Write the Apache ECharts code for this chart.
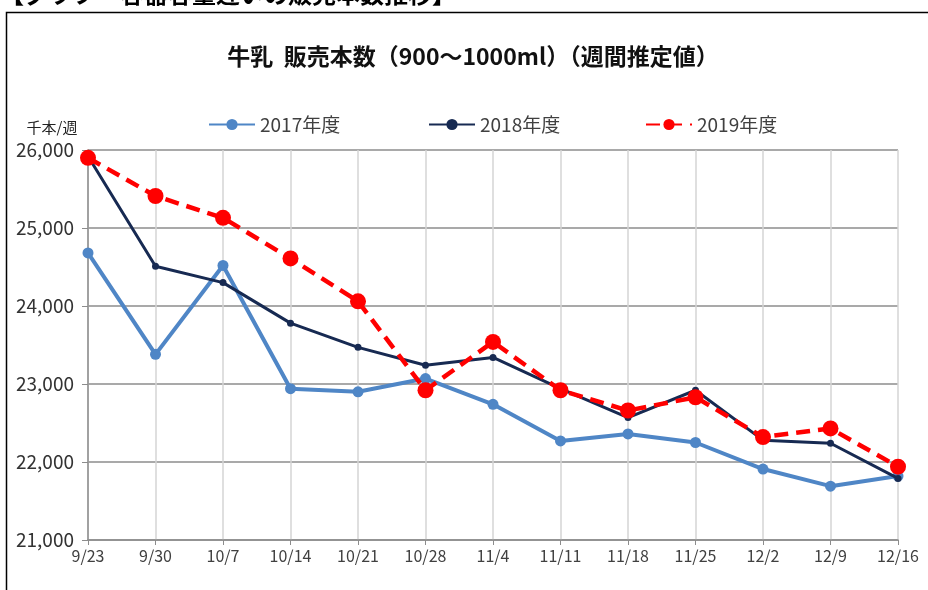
<!DOCTYPE html>
<html><head><meta charset="utf-8">
<script src="https://cdn.jsdelivr.net/npm/echarts@6/dist/echarts.min.js"></script>
<style>html,body{margin:0;padding:0;background:#fff}#c{width:928px;height:590px}</style>
</head><body><div id="c"></div>
<script>
const categories = ['9/23','9/30','10/7','10/14','10/21','10/28','11/4','11/11','11/18','11/25','12/2','12/9','12/16'];
const s2017 = [24680,23380,24520,22940,22900,23070,22740,22270,22360,22250,21910,21690,21820];
const s2018 = [25920,24510,24300,23780,23470,23240,23340,22940,22570,22920,22280,22240,21790];
const s2019 = [25900,25410,25130,24610,24060,22920,23540,22920,22660,22830,22320,22430,21940];
const seriesNames = ['2017年度','2018年度','2019年度'];
const FONT = '"Noto Sans CJK JP", sans-serif';
const chart = echarts.init(document.getElementById('c'), null, {renderer:'canvas'});
function legendFor(name, left){
  return {data:[name], left:left, top:110, itemWidth:46, itemHeight:14,
    textStyle:{fontFamily:FONT, fontSize:19, color:'#404040'}, itemGap:0};
}
chart.setOption({
  animation:false,
  backgroundColor:'#fff',
  graphic:[
    {type:'rect', shape:{x:6.5,y:12.5,width:940,height:600}, style:{fill:'none', stroke:'#000', lineWidth:1.5}, z:-1},
    {type:'text', left:0, top:-18, style:{text:'【グラフ　容器容量違いの販売本数推移】', font:'bold 24px "Noto Sans CJK JP"', fill:'#000'}}
  ],
  title:{text:'牛乳  販売本数（900～1000ml）（週間推定値）', left:468, textAlign:'center', top:40,
    textStyle:{fontFamily:FONT, fontSize:23, fontWeight:'bold', color:'#111'}},
  legend:[legendFor(seriesNames[0],203), legendFor(seriesNames[1],423), legendFor(seriesNames[2],640)],
  grid:{left:88, right:30, top:150, bottom:50, containLabel:false},
  xAxis:{type:'category', data:categories, boundaryGap:false,
    axisLine:{lineStyle:{color:'#8c8c8c', width:1.5}},
    axisTick:{show:true, alignWithLabel:true, length:5, lineStyle:{color:'#8c8c8c'}},
    axisLabel:{fontFamily:FONT, fontSize:16, color:'#404040', margin:8},
    splitLine:{show:true, lineStyle:{color:'#d4d4d4', width:1.5}}},
  yAxis:{type:'value', min:21000, max:26000, interval:1000,
    name:'千本/週', nameLocation:'end', nameGap:15,
    nameTextStyle:{fontFamily:FONT, fontSize:15, color:'#222', align:'center', padding:[0,72,0,0]},
    axisLine:{show:true, lineStyle:{color:'#8c8c8c', width:1.5}},
    axisTick:{show:true, length:6, lineStyle:{color:'#8c8c8c'}},
    axisLabel:{fontFamily:FONT, fontSize:19, color:'#333', margin:14,
      formatter:v=>v.toLocaleString('en-US')},
    splitLine:{lineStyle:{color:'#8c8c8c', width:1.5}}},
  series:[
    {name:seriesNames[0], type:'line', data:s2017, symbol:'circle', symbolSize:11,
      lineStyle:{color:'#4f86c6', width:4}, itemStyle:{color:'#4f86c6'}, z:2},
    {name:seriesNames[1], type:'line', data:s2018, symbol:'circle', symbolSize:7,
      lineStyle:{color:'#172a52', width:3}, itemStyle:{color:'#172a52'}, z:3},
    {name:seriesNames[2], type:'line', data:s2019, symbol:'circle', symbolSize:16,
      lineStyle:{color:'#ff0000', width:4.5, type:[14,8]}, itemStyle:{color:'#ff0000'}, z:4}
  ]
});
</script></body></html>
